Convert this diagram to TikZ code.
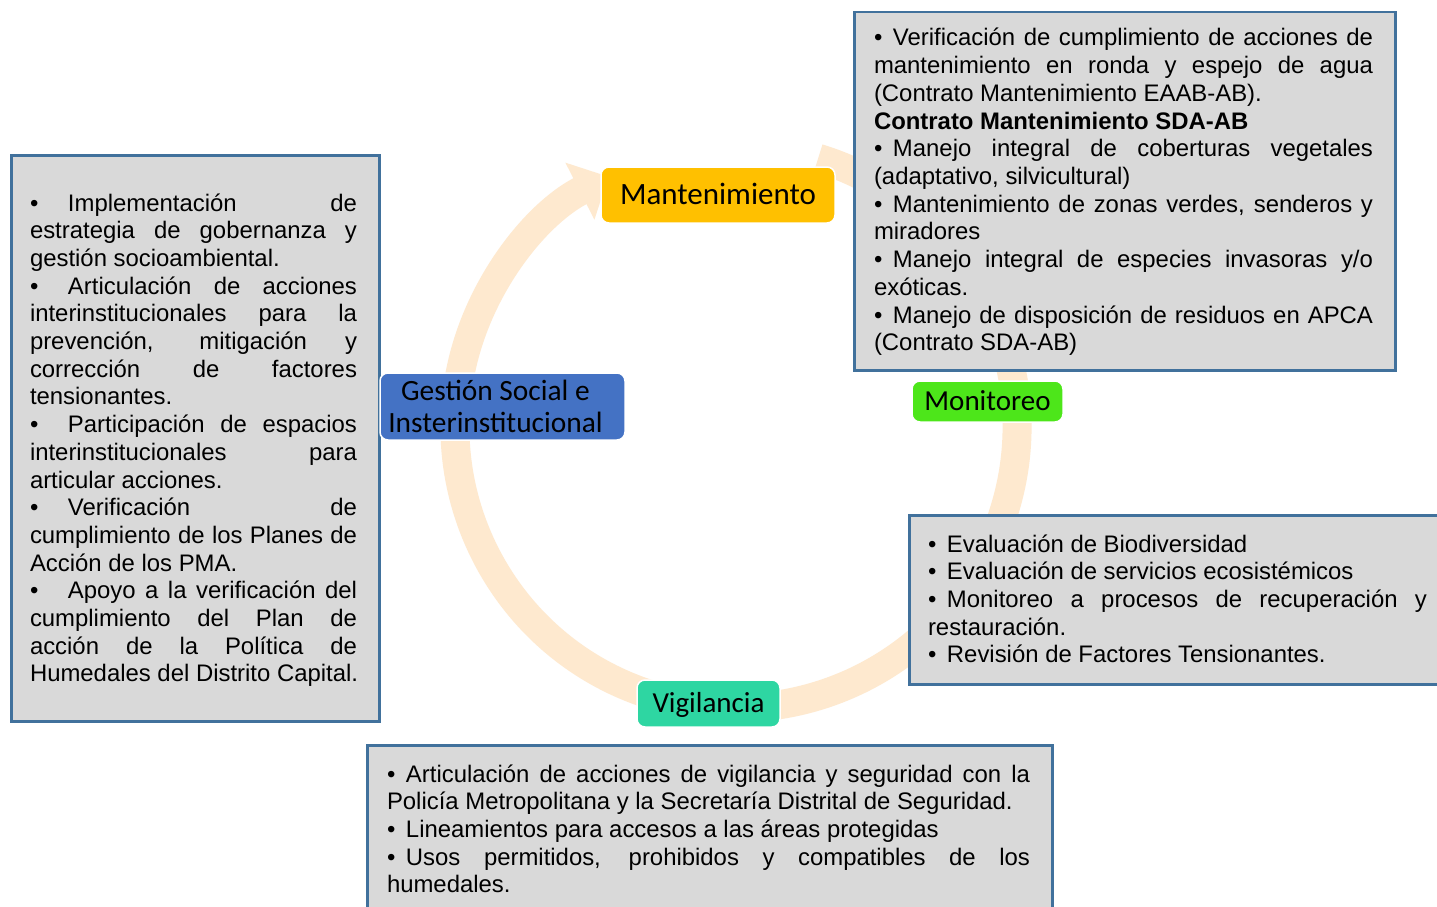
\documentclass[tikz,border=0pt]{standalone}
\usepackage{fontspec}
\setmainfont{Liberation Sans}
\newfontfamily\calibri{Carlito}
\usetikzlibrary{arrows.meta}
\definecolor{ringc}{HTML}{FEE9CF}
\definecolor{boxfill}{HTML}{D9D9D9}
\definecolor{boxline}{HTML}{41719C}
\definecolor{mantc}{HTML}{FFC000}
\definecolor{gestc}{HTML}{4472C4}
\definecolor{monic}{HTML}{4DE61A}
\definecolor{vigic}{HTML}{2ED6A2}
\newlength{\LW}
\newcommand{\JL}[1]{\hbox to \LW{#1}}
\newcommand{\PL}[1]{\hbox{#1}}
\newcommand{\BL}{\hbox to 38pt{•\hfil}}
\newcommand{\BS}{\hbox to 19pt{•\hfil}}
\newcommand{\TB}[2]{\vtop{\setlength{\LW}{#1}\fontsize{23.9}{27.7}\selectfont#2}}
\begin{document}
\begin{tikzpicture}[x=1pt,y=-1pt,
  grayb/.style={draw=boxline, fill=boxfill, line width=2.5pt, inner sep=0pt, rectangle, anchor=north west},
  body/.style={anchor=base west, inner sep=0pt, outer sep=0pt},
  lab/.style={draw=white, line width=1.5pt, rounded corners=8pt, inner sep=0pt,
    text height=22pt, text depth=4pt, font=\calibri\fontsize{29}{32}\selectfont, align=center},
  ringarrow/.style={draw=ringc, line width=29pt}
]
\useasboundingbox (0,0) rectangle (1437,907);
\clip (0,0) rectangle (1437,907);
\fill[white] (0,0) rectangle (1437,907);

% cycle ring
\coordinate (c) at (736,427);
\draw[ringarrow, -{Triangle[width=62pt,length=32pt]}] (c) ++(287:281) arc[start angle=287, end angle=603, radius=281];

% gray boxes
\node[grayb, minimum width=368pt, minimum height=566pt] (lbox) at (10,154) {};
\node[grayb, minimum width=541pt, minimum height=358pt] (trbox) at (853,11) {};
\node[grayb, minimum width=560pt, minimum height=169pt] (rbox) at (908,514) {};
\node[grayb, minimum width=685pt, minimum height=200pt] (bbox) at (366,744) {};

% texts
\node[body] (ltext) at (30,211) {\TB{327pt}{%
\JL{\BL Implementación de}
\JL{estrategia de gobernanza y}
\PL{gestión socioambiental.}
\JL{\BL Articulación de acciones}
\JL{interinstitucionales para la}
\JL{prevención, mitigación y}
\JL{corrección de factores}
\PL{tensionantes.}
\JL{\BL Participación de espacios}
\JL{interinstitucionales para}
\PL{articular acciones.}
\JL{\BL Verificación de}
\JL{cumplimiento de los Planes de}
\PL{Acción de los PMA.}
\JL{\BL Apoyo a la verificación del}
\JL{cumplimiento del Plan de}
\JL{acción de la Política de}
\PL{Humedales del Distrito Capital.}}};

\node[body] (trtext) at (874,46) {\TB{499pt}{%
\JL{\BS Verificación de cumplimiento de acciones de}
\JL{mantenimiento en ronda y espejo de agua}
\PL{(Contrato Mantenimiento EAAB-AB).}
\PL{\bfseries Contrato Mantenimiento SDA-AB}
\JL{\BS Manejo integral de coberturas vegetales}
\PL{(adaptativo, silvicultural)}
\JL{\BS Mantenimiento de zonas verdes, senderos y}
\PL{miradores}
\JL{\BS Manejo integral de especies invasoras y/o}
\PL{exóticas.}
\JL{\BS Manejo de disposición de residuos en APCA}
\PL{(Contrato SDA-AB)}}};

\node[body] (rtext) at (928,552) {\TB{499pt}{%
\PL{\BS Evaluación de Biodiversidad}
\PL{\BS Evaluación de servicios ecosistémicos}
\JL{\BS Monitoreo a procesos de recuperación y}
\PL{restauración.}
\PL{\BS Revisión de Factores Tensionantes.}}};

\node[body] (btext) at (387,782) {\TB{643pt}{%
\JL{\BS Articulación de acciones de vigilancia y seguridad con la}
\PL{Policía Metropolitana y la Secretaría Distrital de Seguridad.}
\PL{\BS Lineamientos para accesos a las áreas protegidas}
\JL{\BS Usos permitidos, prohibidos y compatibles de los}
\PL{humedales.}}};

% cycle labels
\node[lab, fill=mantc, minimum width=234pt, minimum height=56pt, font=\calibri\fontsize{31}{34}\selectfont] (mant) at (718,195) {Mantenimiento};
\node[lab, fill=gestc, minimum width=245pt, minimum height=67pt, text height=, text depth=, font=\calibri\fontsize{29.4}{32.5}\selectfont] (gest) at (502.5,406.5) {Gestión Social e\hspace*{14pt}\\Insterinstitucional\hspace*{14pt}};
\node[lab, fill=monic, minimum width=151pt, minimum height=41pt] (moni) at (987.5,401.5) {Monitoreo};
\node[lab, fill=vigic, minimum width=143pt, minimum height=47pt] (vigi) at (708.5,703.5) {Vigilancia};
\end{tikzpicture}
\end{document}
